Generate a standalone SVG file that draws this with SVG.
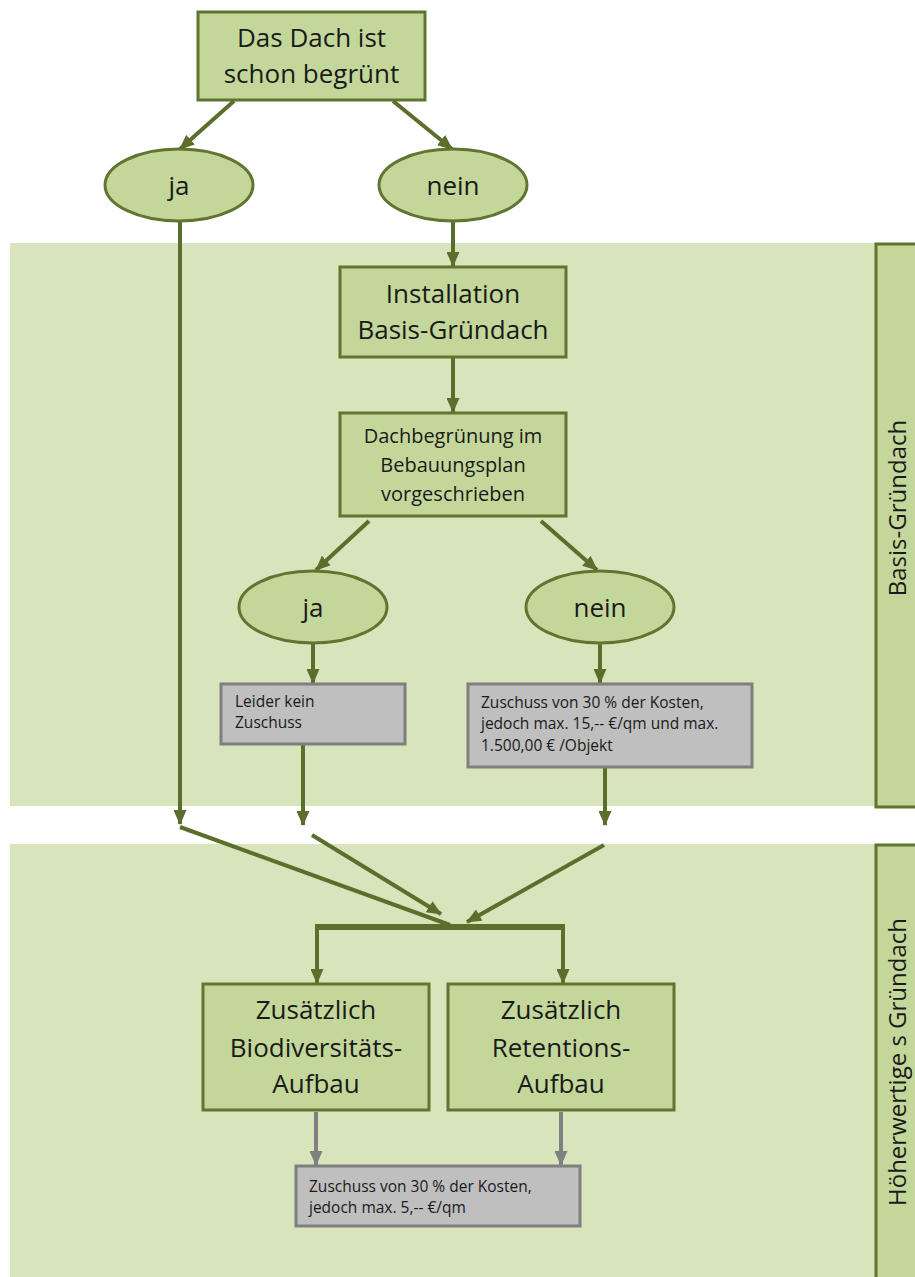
<svg xmlns="http://www.w3.org/2000/svg" width="915" height="1277" viewBox="0 0 915 1277">
<defs>
<marker id="arr" markerUnits="userSpaceOnUse" markerWidth="15" markerHeight="13" refX="14" refY="6.5" orient="auto"><path d="M0,0 L15,6.5 L0,13 z" fill="#5b6e2c"/></marker>
<marker id="arrg" markerUnits="userSpaceOnUse" markerWidth="15" markerHeight="13" refX="14" refY="6.5" orient="auto"><path d="M0,0 L15,6.5 L0,13 z" fill="#808080"/></marker>
<style>
.band{fill:#d8e4bc}
.node{fill:#c4d79b;stroke:#5f7530;stroke-width:3}
.gray{fill:#bfbfbf;stroke:#7f7f7f;stroke-width:3}
.side{fill:#c4d79b;stroke:#5f7530;stroke-width:3}
.t{font-family:"Open Sans","Liberation Sans",sans-serif;fill:#1a1a1a}
.big{font-size:26px;text-anchor:middle}
.mid{font-size:20px;text-anchor:middle}
.small{font-size:15.5px}
.sidet{font-size:24px;text-anchor:middle}
.c{fill:none;stroke:#5b6e2c;stroke-width:4}
.cg{fill:none;stroke:#808080;stroke-width:4}
</style>
</defs>
<g id="bands">
<rect class="band" x="10" y="243" width="905" height="563"/>
<rect class="band" x="10" y="844" width="905" height="433"/>
</g>
<g id="side-basis">
<rect class="side" x="876" y="244" width="50" height="563"/>
<text class="t sidet" transform="translate(906,508) rotate(-90)">Basis-Gründach</text>
</g>
<g id="side-hoeher">
<rect class="side" x="876" y="845" width="50" height="440"/>
<text class="t sidet" transform="translate(906,1062) rotate(-90)">Höherwertige s Gründach</text>
</g>
<g id="connectors">
<line class="c" x1="234" y1="101" x2="180" y2="149" marker-end="url(#arr)"/>
<line class="c" x1="393" y1="101" x2="452" y2="149" marker-end="url(#arr)"/>
<line class="c" x1="180" y1="222" x2="180" y2="824" marker-end="url(#arr)"/>
<line class="c" x1="453" y1="222" x2="453" y2="266" marker-end="url(#arr)"/>
<line class="c" x1="453" y1="358" x2="453" y2="412" marker-end="url(#arr)"/>
<line class="c" x1="369" y1="521" x2="316" y2="570" marker-end="url(#arr)"/>
<line class="c" x1="541" y1="521" x2="597" y2="570" marker-end="url(#arr)"/>
<line class="c" x1="313" y1="644" x2="313" y2="683" marker-end="url(#arr)"/>
<line class="c" x1="600" y1="644" x2="600" y2="683" marker-end="url(#arr)"/>
<line class="c" x1="303" y1="745" x2="303" y2="825" marker-end="url(#arr)"/>
<line class="c" x1="605" y1="768" x2="605" y2="825" marker-end="url(#arr)"/>
<line class="c" x1="180" y1="827" x2="450" y2="925"/>
<line class="c" x1="312" y1="835" x2="441" y2="914" marker-end="url(#arr)"/>
<line class="c" x1="604" y1="845" x2="467" y2="922" marker-end="url(#arr)"/>
<line class="c" x1="315" y1="927" x2="565" y2="927" style="stroke-width:6"/>
<line class="c" x1="317" y1="925" x2="317" y2="983" marker-end="url(#arr)"/>
<line class="c" x1="563" y1="925" x2="563" y2="983" marker-end="url(#arr)"/>
<line class="cg" x1="316" y1="1112" x2="316" y2="1165" marker-end="url(#arrg)"/>
<line class="cg" x1="561" y1="1112" x2="561" y2="1165" marker-end="url(#arrg)"/>
</g>
<g id="n-dach">
<rect class="node" x="198" y="12" width="227" height="88"/>
<text class="t big" x="311.5" y="47">Das Dach ist</text>
<text class="t big" x="311.5" y="83">schon begrünt</text>
</g>
<g id="n-ja1">
<ellipse class="node" cx="179" cy="185" rx="74" ry="36"/>
<text class="t big" x="179" y="195">ja</text>
</g>
<g id="n-nein1">
<ellipse class="node" cx="453" cy="185" rx="74" ry="36"/>
<text class="t big" x="453" y="195">nein</text>
</g>
<g id="n-install">
<rect class="node" x="340" y="267" width="226" height="90"/>
<text class="t big" x="453" y="303">Installation</text>
<text class="t big" x="453" y="339">Basis-Gründach</text>
</g>
<g id="n-bplan">
<rect class="node" x="340" y="413" width="226" height="103"/>
<text class="t mid" x="453" y="443">Dachbegrünung im</text>
<text class="t mid" x="453" y="472">Bebauungsplan</text>
<text class="t mid" x="453" y="501">vorgeschrieben</text>
</g>
<g id="n-ja2">
<ellipse class="node" cx="313" cy="607" rx="74" ry="36"/>
<text class="t big" x="313" y="617">ja</text>
</g>
<g id="n-nein2">
<ellipse class="node" cx="600" cy="607" rx="74" ry="36"/>
<text class="t big" x="600" y="617">nein</text>
</g>
<g id="n-leider">
<rect class="gray" x="221" y="684" width="184" height="60"/>
<text class="t small" x="235" y="707">Leider kein</text>
<text class="t small" x="235" y="728">Zuschuss</text>
</g>
<g id="n-zuschuss1">
<rect class="gray" x="468" y="684" width="284" height="83"/>
<text class="t small" x="481" y="708">Zuschuss von 30 % der Kosten,</text>
<text class="t small" x="481" y="729">jedoch max. 15,-- €/qm und max.</text>
<text class="t small" x="481" y="751">1.500,00 € /Objekt</text>
</g>
<g id="n-bio">
<rect class="node" x="203" y="984" width="226" height="126"/>
<text class="t big" x="316" y="1019">Zusätzlich</text>
<text class="t big" x="316" y="1057">Biodiversitäts-</text>
<text class="t big" x="316" y="1093">Aufbau</text>
</g>
<g id="n-ret">
<rect class="node" x="448" y="984" width="226" height="126"/>
<text class="t big" x="561" y="1019">Zusätzlich</text>
<text class="t big" x="561" y="1057">Retentions-</text>
<text class="t big" x="561" y="1093">Aufbau</text>
</g>
<g id="n-zuschuss2">
<rect class="gray" x="296" y="1166" width="284" height="60"/>
<text class="t small" x="309" y="1192">Zuschuss von 30 % der Kosten,</text>
<text class="t small" x="309" y="1213">jedoch max. 5,-- €/qm</text>
</g>
</svg>
